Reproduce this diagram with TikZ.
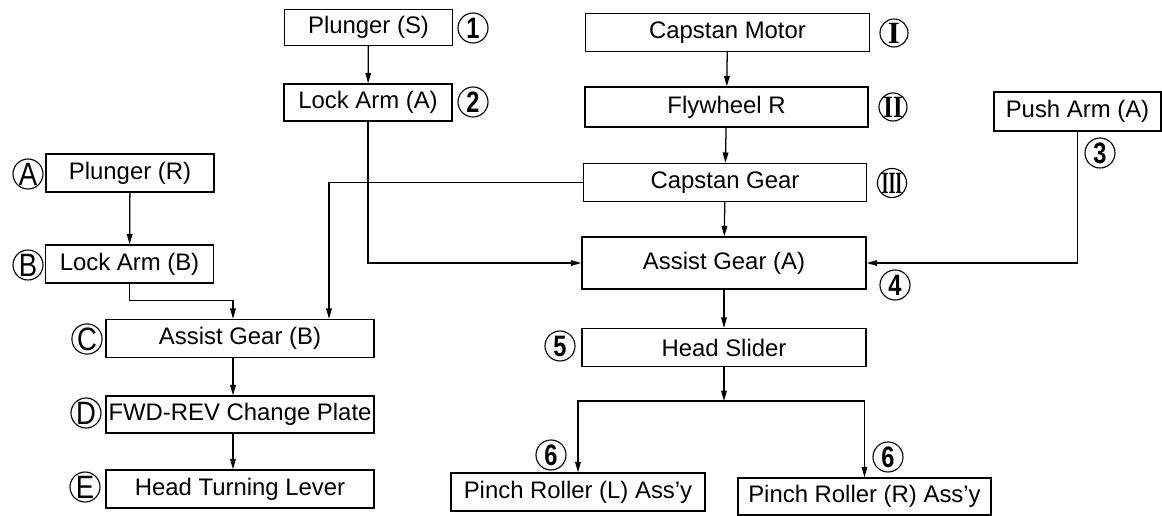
\documentclass[tikz,border=0pt]{standalone}
\usepackage{fontspec}
\setmainfont{Liberation Sans}
\newfontfamily\romfont{Liberation Serif}
\usetikzlibrary{arrows.meta,calc}

\begin{document}
\begin{tikzpicture}[x=0.25mm,y=-0.25mm,line width=0.9pt,>={Triangle[length=2.6mm,width=1.4mm]}]
\newcommand{\fsize}{\fontsize{17}{20}\selectfont}
\newcommand{\cnum}[1]{\fontsize{21}{21}\selectfont\bfseries\scalebox{0.8}[1]{#1}}
\newcommand{\clet}[1]{\fontsize{23}{23}\selectfont\scalebox{0.85}[1]{#1}}
\newcommand{\crom}[2]{\romfont\fontsize{22}{22}\selectfont\bfseries\scalebox{#1}[1]{#2}}
\useasboundingbox (0,0) rectangle (1162,516);
\begin{scope}[shape=rectangle,minimum height=9.5mm,inner sep=0pt]
\tikzstyle{every node}=[draw,font=\fsize]
% left column
\node[minimum width=42mm] (P_R) at (130,173) {Plunger (R)};
\node[minimum width=42mm] (LA_B) at (129.5,264) {Lock Arm (B)};
\node[minimum width=67mm] (AG_B) at (240,338.5) {Assist Gear (B)};
\node[minimum width=67mm,minimum height=9.25mm] (FWD) at (240,414.5) {FWD-REV Change Plate};
\node[minimum width=67mm] (HTL) at (240,489) {Head Turning Lever};
% middle column
\node[minimum width=42mm,minimum height=9mm] (P_S) at (368.5,27.5) {Plunger (S)};
\node[minimum width=42mm,minimum height=9.25mm] (LA_A) at (368,102.5) {Lock Arm (A)};
% capstan column
\node[minimum width=71mm] (CM) at (727.5,32.5) {Capstan Motor};
\node[minimum width=70.75mm,minimum height=10mm] (FW) at (726.5,107) {Flywheel R};
\node[minimum width=70.75mm] (CG) at (725,182.5) {Capstan Gear};
\node[minimum width=71mm,minimum height=13mm] (AG_A) at (724,263) {Assist Gear (A)};
\node[minimum width=71mm] (HS) at (724,347.5) {Head Slider};
\node[minimum width=63.5mm] (PR_L) at (578,492) {Pinch Roller (L) Ass'y};
\node[minimum width=63.25mm,minimum height=9.25mm] (PR_R) at (864.5,496.5) {Pinch Roller (R) Ass'y};
% right
\node[minimum width=41.75mm,minimum height=9.75mm] (PA) at (1077.5,111.5) {Push Arm (A)};
\end{scope}
\begin{scope}[shape=circle,minimum size=7.5mm,inner sep=0pt]
\tikzstyle{every node}=[draw,line width=0.8pt]
\node (c_A) at (28,174) {\clet{A}};
\node (c_B) at (28,265) {\clet{B}};
\node (c_C) at (87,339) {\clet{C}};
\node (c_D) at (86,413) {\clet{D}};
\node (c_E) at (85,487) {\clet{E}};
\node (c_1) at (473,28) {\cnum{1}};
\node (c_2) at (473,102) {\cnum{2}};
\node (c_3) at (1100,153) {\cnum{3}};
\node (c_4) at (895,285) {\cnum{4}};
\node (c_5) at (560,346) {\cnum{5}};
\node (c_6L) at (551,455) {\cnum{6}};
\node (c_6R) at (888,457) {\cnum{6}};
\node[minimum size=7mm] (c_I) at (894,33) {\crom{1}{I}};
\node[minimum size=7mm] (c_II) at (893,107) {\crom{0.8}{II}};
\node[minimum size=7mm] (c_III) at (892,183) {\crom{0.58}{III}};
\end{scope}
\coordinate (fork) at (724,401);
\draw [->] (P_R) -- (LA_B);
\draw [->] (LA_B.south) -- ++(0,17) -| ($(AG_B.north)+(-7,0)$);
\draw [->] ($(AG_B.south)+(-7,0)$) -- ($(FWD.north)+(-7,0)$);
\draw [->] ($(FWD.south)+(-7,0)$) -- ($(HTL.north)+(-7,0)$);
\draw [->] (CG.west) -| ($(AG_B.north)+(89,0)$);
\draw [->] (P_S) -- (LA_A);
\draw [->] (LA_A.south) |- (AG_A.west);
\draw [->] (CM) -- (FW);
\draw [->] (FW) -- (CG);
\draw [->] (CG) -- (AG_A);
\draw [->] (PA.south) |- (AG_A.east);
\draw [->] (AG_A) -- (HS);
\draw [->] (HS.south) -- (fork);
\draw [->] (fork) -| (PR_L.north);
\draw [->] (fork) -| (PR_R.north);
\end{tikzpicture}
\end{document}
